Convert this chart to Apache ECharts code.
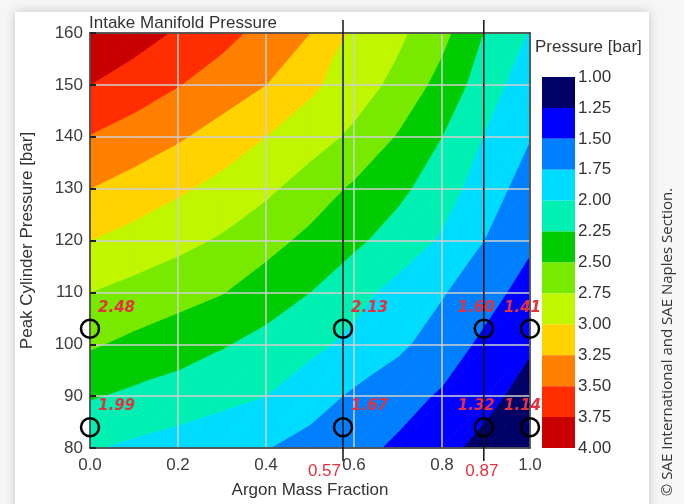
<!DOCTYPE html>
<html>
<head>
<meta charset="utf-8">
<script src="https://cdn.jsdelivr.net/npm/echarts@6/dist/echarts.min.js"></script>
<style>
  html, body { margin: 0; padding: 0; background: #f6f6f6; }
  #manifoldChart { width: 684px; height: 504px; }
</style>
</head>
<body>
<div id="manifoldChart"></div>
<script>
  // map nodes
  const argonFrac = [0, 0.1, 0.2, 0.3, 0.4, 0.5, 0.6, 0.7, 0.8, 0.9, 1.0]
  const peakPress = [80, 90, 100, 110, 120, 130, 140, 150, 160]
  // intake manifold pressure [bar], one row per peakPress, one column per argonFrac
  const intakePress = [
    [2.02, 1.95, 1.89, 1.82, 1.76, 1.66, 1.57, 1.46, 1.32, 1.17, 1.02],
    [2.27, 2.20, 2.14, 2.07, 2.00, 1.86, 1.71, 1.59, 1.47, 1.32, 1.15],
    [2.53, 2.44, 2.36, 2.27, 2.17, 2.06, 1.94, 1.80, 1.63, 1.44, 1.28],
    [2.75, 2.67, 2.59, 2.51, 2.38, 2.25, 2.08, 1.92, 1.77, 1.59, 1.40],
    [3.00, 2.91, 2.82, 2.72, 2.58, 2.44, 2.30, 2.14, 1.97, 1.74, 1.54],
    [3.25, 3.15, 3.04, 2.92, 2.80, 2.63, 2.46, 2.31, 2.11, 1.87, 1.63],
    [3.49, 3.39, 3.28, 3.15, 3.00, 2.86, 2.70, 2.48, 2.25, 1.98, 1.76],
    [3.75, 3.63, 3.51, 3.38, 3.25, 3.05, 2.87, 2.68, 2.41, 2.12, 1.84],
    [4.00, 3.86, 3.72, 3.58, 3.42, 3.25, 2.95, 2.80, 2.57, 2.23, 1.98]
  ]
  const levels = [1.00, 1.25, 1.50, 1.75, 2.00, 2.25, 2.50, 2.75, 3.00, 3.25, 3.50, 3.75, 4.00]
  const bandColors = ['#000066', '#0000ff', '#0080ff', '#00dcff', '#00f0b4', '#00cc00',
    '#77ea00', '#bff600', '#ffd200', '#ff7f00', '#ff2d00', '#c80000']

  // operating points
  const probeArgon = [0, 0.575, 0.895, 1.0]
  const probePeak = [103, 84]
  const probeValues = [
    [2.48, 2.13, 1.60, 1.41],
    [1.99, 1.67, 1.32, 1.14]
  ]
  const peakTags = ['103', '84']
  const argonTags = ['0.57', '0.87'] // for probeArgon[1], probeArgon[2]

  const FONT = 'Liberation Sans, Arial, sans-serif'
  const RED = '#e4303f'

  // cells of the map
  let cells = []
  for (let j = 0; j < peakPress.length - 1; j++) {
    for (let i = 0; i < argonFrac.length - 1; i++) {
      cells.push([argonFrac[i], peakPress[j], argonFrac[i + 1], peakPress[j + 1],
        intakePress[j][i], intakePress[j][i + 1], intakePress[j + 1][i], intakePress[j + 1][i + 1]])
    }
  }

  // keep the part of a polygon above (dir 1) or below (dir -1) a level
  function clipBy (pts, level, dir) {
    let out = []
    for (let i = 0; i < pts.length; i++) {
      let a = pts[i]
      let b = pts[(i + 1) % pts.length]
      let aIn = dir > 0 ? a[2] >= level : a[2] <= level
      let bIn = dir > 0 ? b[2] >= level : b[2] <= level
      if (aIn) out.push(a)
      if (aIn !== bIn) {
        let t = (level - a[2]) / (b[2] - a[2])
        out.push([a[0] + t * (b[0] - a[0]), a[1] + t * (b[1] - a[1]), level])
      }
    }
    return out
  }

  function renderCell (params, api) {
    let c00 = api.coord([api.value(0), api.value(1)])
    let c10 = api.coord([api.value(2), api.value(1)])
    let c01 = api.coord([api.value(0), api.value(3)])
    let c11 = api.coord([api.value(2), api.value(3)])
    let p00 = [c00[0], c00[1], api.value(4)]
    let p10 = [c10[0], c10[1], api.value(5)]
    let p01 = [c01[0], c01[1], api.value(6)]
    let p11 = [c11[0], c11[1], api.value(7)]
    let children = []
    ;[[p00, p10, p11], [p00, p11, p01]].forEach(tri => {
      for (let k = 0; k < bandColors.length; k++) {
        let poly = clipBy(clipBy(tri, levels[k], 1), levels[k + 1], -1)
        if (poly.length > 2) {
          children.push({
            type: 'polygon',
            shape: { points: poly.map(p => [p[0], p[1]]) },
            style: { fill: bandColors[k], stroke: bandColors[k], lineWidth: 0.8 }
          })
        }
      }
    })
    return { type: 'group', children: children }
  }

  // guide lines, circles and red tags
  let guideData = []
  probePeak.forEach((y, r) => guideData.push(['h', y, r]))
  ;[1, 2].forEach((c, n) => guideData.push(['v', probeArgon[c], n]))

  function renderGuide (params, api) {
    let kind = api.value(0)
    let v = api.value(1)
    let n = api.value(2)
    let lineStyle = { stroke: '#111', lineWidth: 1.5 }
    if (kind === 'h') {
      let a = api.coord([0, v])
      let b = api.coord([1, v])
      return {
        type: 'group',
        children: [
          { type: 'line', shape: { x1: a[0], y1: a[1], x2: b[0], y2: b[1] }, style: lineStyle },
          { type: 'text', x: a[0] - 29, y: a[1], style: { text: peakTags[n], font: '17px ' + FONT, fill: RED, align: 'center', verticalAlign: 'middle' } }
        ]
      }
    }
    let top = api.coord([v, 160])
    let bot = api.coord([v, 80])
    return {
      type: 'group',
      children: [
        { type: 'line', shape: { x1: top[0], y1: top[1] - 13, x2: bot[0], y2: bot[1] + 13 }, style: lineStyle },
        {
          type: 'text',
          x: n === 0 ? bot[0] - 2 : bot[0] - 2,
          y: bot[1] + 23,
          style: { text: argonTags[n], font: '17px ' + FONT, fill: RED, align: n === 0 ? 'right' : 'center', verticalAlign: 'middle' }
        }
      ]
    }
  }

  let probeData = []
  probePeak.forEach((y, r) => {
    probeArgon.forEach((x, c) => probeData.push([x, y, probeValues[r][c], c]))
  })

  function renderProbe (params, api) {
    let p = api.coord([api.value(0), api.value(1)])
    let col = api.value(3)
    let leftSide = col < 2
    return {
      type: 'group',
      children: [
        { type: 'circle', shape: { cx: p[0], cy: p[1], r: 9 }, style: { fill: 'none', stroke: '#000', lineWidth: 2.5 } },
        {
          type: 'text',
          x: leftSide ? p[0] + 8 : p[0] + 11,
          y: p[1] - 21,
          style: {
            text: api.value(2).toFixed(2),
            font: 'italic bold 15px DejaVu Sans, sans-serif',
            fill: RED,
            align: leftSide ? 'left' : 'right',
            verticalAlign: 'middle'
          }
        }
      ]
    }
  }

  // colour bar
  let barData = []
  for (let k = 0; k < bandColors.length; k++) barData.push([levels[k], levels[k + 1], k])

  function renderBand (params, api) {
    let a = api.coord([0, api.value(0)])
    let b = api.coord([1, api.value(1)])
    return {
      type: 'rect',
      shape: { x: a[0], y: Math.min(a[1], b[1]), width: b[0] - a[0], height: Math.abs(b[1] - a[1]) },
      style: { fill: bandColors[api.value(2)] }
    }
  }

  let chart = echarts.init(document.getElementById('manifoldChart'))
  chart.setOption({
    backgroundColor: '#f6f6f6',
    animation: false,
    textStyle: { fontFamily: FONT },
    title: [
      { text: 'Intake Manifold Pressure', left: 89, top: 15, padding: 0, textStyle: { fontSize: 17, fontWeight: 'normal', color: '#333', fontFamily: FONT } },
      { text: 'Pressure [bar]', left: 535, top: 39, padding: 0, textStyle: { fontSize: 17, fontWeight: 'normal', color: '#333', fontFamily: FONT } }
    ],
    graphic: [
      { type: 'rect', z: -10, shape: { x: 15, y: 12, width: 634, height: 510 }, style: { fill: '#fff', shadowBlur: 10, shadowColor: 'rgba(0,0,0,0.2)' } },
      {
        type: 'text', x: 668, y: 342, rotation: Math.PI / 2,
        style: { text: '© SAE International and SAE Naples Section.', font: '15px Open Sans, sans-serif', fill: '#333', align: 'center', verticalAlign: 'middle' }
      }
    ],
    grid: [
      { left: 90, top: 33, width: 440, height: 415 },
      { left: 542, top: 77, width: 33, height: 371 }
    ],
    xAxis: [
      {
        gridIndex: 0, type: 'value', min: 0, max: 1, interval: 0.2, z: 3,
        name: 'Argon Mass Fraction', nameLocation: 'middle', nameGap: 34,
        nameTextStyle: { fontSize: 17, color: '#333' },
        axisLine: { show: true, onZero: false, lineStyle: { color: '#333', width: 1.5 } },
        axisTick: { show: false },
        axisLabel: { fontSize: 17, color: '#3c3c3c', margin: 9, formatter: v => v.toFixed(1) },
        splitLine: { show: true, lineStyle: { color: '#cfcfcf', width: 1.5 } }
      },
      {
        gridIndex: 0, type: 'value', min: 0, max: 1, position: 'top', z: 3,
        axisLine: { show: true, onZero: false, lineStyle: { color: '#333', width: 1.5 } },
        axisTick: { show: false }, axisLabel: { show: false }, splitLine: { show: false }
      },
      { gridIndex: 1, type: 'value', min: 0, max: 1, show: false }
    ],
    yAxis: [
      {
        gridIndex: 0, type: 'value', min: 80, max: 160, interval: 10, z: 3,
        name: 'Peak Cylinder Pressure [bar]', nameLocation: 'middle', nameGap: 54,
        nameTextStyle: { fontSize: 17, color: '#333' },
        axisLine: { show: true, onZero: false, lineStyle: { color: '#333', width: 1.5 } },
        axisTick: { show: true, inside: true, length: 6, lineStyle: { color: '#222', width: 2 } },
        axisLabel: { fontSize: 17, color: '#3c3c3c', margin: 7 },
        splitLine: { show: true, lineStyle: { color: '#cfcfcf', width: 1.5 } }
      },
      {
        gridIndex: 0, type: 'value', min: 80, max: 160, position: 'right', z: 3,
        axisLine: { show: true, onZero: false, lineStyle: { color: '#333', width: 1.5 } },
        axisTick: { show: false }, axisLabel: { show: false }, splitLine: { show: false }
      },
      {
        gridIndex: 1, type: 'value', min: 1, max: 4, interval: 0.25, inverse: true, position: 'right',
        axisLine: { show: false }, axisTick: { show: false }, splitLine: { show: false },
        axisLabel: { fontSize: 17, color: '#333', margin: 3, showMinLabel: true, showMaxLabel: true, formatter: v => v.toFixed(2) }
      }
    ],
    series: [
      {
        type: 'custom', name: 'map', xAxisIndex: 0, yAxisIndex: 0, z: 1, clip: true,
        encode: { x: [0, 2], y: [1, 3] },
        renderItem: renderCell,
        data: cells
      },
      {
        type: 'custom', name: 'guides', xAxisIndex: 0, yAxisIndex: 0, z: 5, clip: false,
        renderItem: renderGuide,
        data: guideData
      },
      {
        type: 'custom', name: 'probes', xAxisIndex: 0, yAxisIndex: 0, z: 6, clip: false,
        encode: { x: 0, y: 1 },
        renderItem: renderProbe,
        data: probeData
      },
      {
        type: 'custom', name: 'colourbar', xAxisIndex: 2, yAxisIndex: 2, z: 1,
        renderItem: renderBand,
        data: barData
      }
    ]
  })
</script>
</body>
</html>
